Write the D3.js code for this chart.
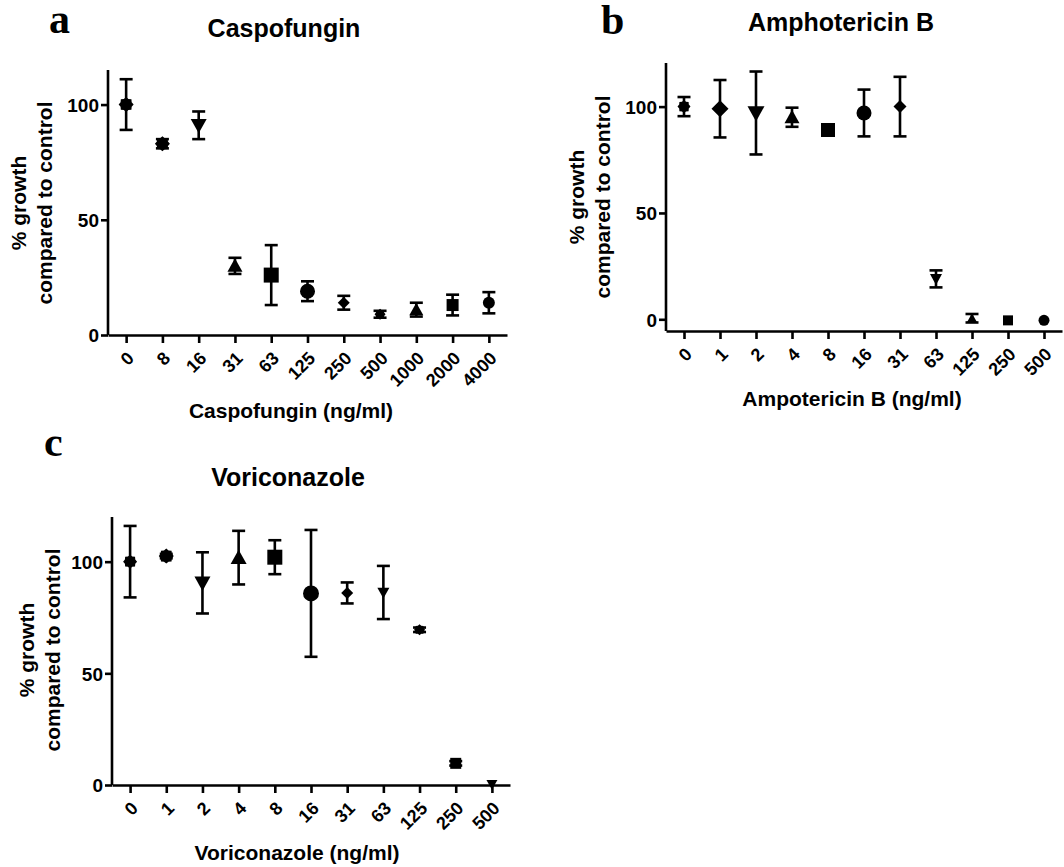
<!DOCTYPE html>
<html>
  <head>
    <meta charset="utf-8">
    <script src="https://cdn.jsdelivr.net/npm/d3@7"></script>
    <style>
      body { margin: 0; background: #fff; }
      text { font-family: "Liberation Sans", Arial, sans-serif; font-weight: bold; fill: #000; }
      .letter { font-family: "Liberation Serif", "Times New Roman", serif; font-size: 42px; }
    </style>
  </head>
  <body>
    <svg width="1064" height="867"></svg>
    <script>

      // Panel a - Caspofungin
      var caspoDoses = ["0", "8", "16", "31", "63", "125", "250", "500", "1000", "2000", "4000"];
      var caspoMean = [100, 83, 91, 30, 26, 19, 14, 9, 11, 13, 14];
      var caspoErr = [11, 2, 6, 3.5, 13, 4.3, 3, 1.5, 3, 4.5, 4.6];

      // Panel b - Amphotericin B
      var amphoDoses = ["0", "1", "2", "4", "8", "16", "31", "63", "125", "250", "500"];
      var amphoMean = [100, 99, 97, 95, 89, 97, 100, 19, 0.5, -0.5, -0.5];
      var amphoErr = [4.5, 13.5, 19.5, 4.5, 0, 11, 14, 4, 2, 0.5, 0];

      // Panel c - Voriconazole
      var voriDoses = ["0", "1", "2", "4", "8", "16", "31", "63", "125", "250", "500"];
      var voriMean = [100, 102.5, 90.5, 101.8, 102, 85.8, 86, 86.2, 69.5, 9.7, 0.3];
      var voriErr = [16, 1, 13.7, 12, 7.6, 28.4, 4.7, 11.9, 1, 1, 0.5];

      var yTicks = [0, 50, 100];

      // custom marker shapes, size = marker width in px
      var shapes = {
        star8: { draw: function(ctx, w) {
          var ro = w / 2, ri = ro * 0.8;
          for (var i = 0; i < 16; i++) {
            var r = i % 2 ? ri : ro, a = Math.PI * i / 8 - Math.PI / 2;
            if (i == 0) ctx.moveTo(r * Math.cos(a), r * Math.sin(a));
            else ctx.lineTo(r * Math.cos(a), r * Math.sin(a));
          }
          ctx.closePath();
        }},
        triDown: { draw: function(ctx, w) {
          ctx.moveTo(-w / 2, -w * 0.4); ctx.lineTo(w / 2, -w * 0.4); ctx.lineTo(0, w * 0.5); ctx.closePath();
        }},
        triUp: { draw: function(ctx, w) {
          ctx.moveTo(-w / 2, w * 0.4); ctx.lineTo(w / 2, w * 0.4); ctx.lineTo(0, -w * 0.5); ctx.closePath();
        }},
        square: { draw: function(ctx, w) {
          ctx.rect(-w / 2, -w / 2, w, w);
        }},
        circle: { draw: function(ctx, w) {
          ctx.moveTo(w / 2, 0); ctx.arc(0, 0, w / 2, 0, 2 * Math.PI);
        }},
        diamond: { draw: function(ctx, w) {
          ctx.moveTo(0, -w / 2); ctx.lineTo(w / 2, 0); ctx.lineTo(0, w / 2); ctx.lineTo(-w / 2, 0); ctx.closePath();
        }}
      };

      var svg = d3.select("svg");

      function drawPanel(p) {
        var g = svg.append("g");

        var x = d3.scalePoint().domain(p.doses).range(p.xRange).padding(0.5);
        var y = d3.scaleLinear().domain(p.yDomain).range(p.yRange);
        var axisY = p.yRange[0];

        // y axis
        g.append("g")
          .attr("transform", "translate(" + p.xRange[0] + ",0)")
          .call(d3.axisLeft(y).tickValues(yTicks).tickSize(7).tickPadding(2))
          .call(function(a) {
            a.select(".domain").attr("d", "M0," + p.yRange[0] + "V" + p.yRange[1]);
            a.selectAll("line, path").attr("stroke", "#000").attr("stroke-width", 2.6);
            a.selectAll("text").style("font-size", "19px").attr("dy", "0.36em");
          });

        // x axis
        g.append("g")
          .attr("transform", "translate(0," + axisY + ")")
          .call(d3.axisBottom(x).tickSize(8).tickSizeOuter(0))
          .call(function(a) {
            a.selectAll("line, path").attr("stroke", "#000").attr("stroke-width", 2.6);
            a.selectAll("text")
              .style("font-size", "18px")
              .attr("text-anchor", "end")
              .attr("y", 0).attr("dy", "0.35em")
              .attr("transform", "translate(4,20) rotate(-45)");
          });

        var pts = p.doses.map(function(d, i) {
          return { dose: d, mean: p.mean[i], err: p.err[i], shape: p.shapes[i], size: p.sizes[i] };
        });

        // error bars
        var eb = g.selectAll(".eb").data(pts.filter(function(d) { return d.err > 0.6; }))
          .enter().append("g").attr("class", "eb")
          .attr("stroke", "#000").attr("stroke-width", 2.6);
        eb.append("line")
          .attr("x1", function(d) { return x(d.dose); })
          .attr("x2", function(d) { return x(d.dose); })
          .attr("y1", function(d) { return y(d.mean - d.err); })
          .attr("y2", function(d) { return y(d.mean + d.err); });
        [-1, 1].forEach(function(s) {
          eb.append("line")
            .attr("x1", function(d) { return x(d.dose) - 6.5; })
            .attr("x2", function(d) { return x(d.dose) + 6.5; })
            .attr("y1", function(d) { return y(d.mean + s * d.err); })
            .attr("y2", function(d) { return y(d.mean + s * d.err); });
        });

        // markers
        g.selectAll(".mk").data(pts).enter().append("path")
          .attr("class", "mk")
          .attr("d", function(d) { return d3.symbol().type(shapes[d.shape]).size(d.size)(); })
          .attr("transform", function(d) { return "translate(" + x(d.dose) + "," + y(d.mean) + ")"; })
          .attr("fill", "#000");

        // titles
        g.append("text").attr("class", "letter").attr("x", p.letterPos[0]).attr("y", p.letterPos[1]).text(p.letter);
        g.append("text").attr("x", p.titlePos[0]).attr("y", p.titlePos[1])
          .attr("text-anchor", "middle").style("font-size", "25px").text(p.title);
        g.append("text").attr("x", p.xLabelPos[0]).attr("y", p.xLabelPos[1])
          .attr("text-anchor", "middle").style("font-size", "21px").text(p.xLabel);

        var yl = g.append("text")
          .attr("transform", "translate(" + p.yLabelPos[0] + "," + p.yLabelPos[1] + ") rotate(-90)")
          .attr("text-anchor", "middle").style("font-size", "21px");
        yl.append("tspan").attr("x", 0).attr("dy", "0.35em").text("% growth");
        yl.append("tspan").attr("x", 0).attr("dy", "1.2em").text("compared to control");
      }

      drawPanel({
        doses: caspoDoses, mean: caspoMean, err: caspoErr,
        shapes: ["star8", "star8", "triDown", "triUp", "square", "circle", "diamond", "star8", "triUp", "square", "circle"],
        sizes: [15, 15, 16, 15, 15, 15, 12, 11, 14, 12, 12],
        xRange: [108, 507], yDomain: [0, 115], yRange: [335, 70],
        letter: "a", letterPos: [49, 33],
        title: "Caspofungin", titlePos: [284, 37],
        xLabel: "Caspofungin (ng/ml)", xLabelPos: [291, 418],
        yLabelPos: [19, 203]
      });

      drawPanel({
        doses: amphoDoses, mean: amphoMean, err: amphoErr,
        shapes: ["star8", "diamond", "triDown", "triUp", "square", "circle", "diamond", "triDown", "triUp", "square", "circle"],
        sizes: [13, 17, 17, 15, 14, 15, 13, 12, 10, 10, 11],
        xRange: [666, 1062], yDomain: [-5.5, 120.5], yRange: [331, 63],
        letter: "b", letterPos: [601, 34],
        title: "Amphotericin B", titlePos: [841, 31],
        xLabel: "Ampotericin B (ng/ml)", xLabelPos: [852, 406],
        yLabelPos: [577, 197]
      });

      drawPanel({
        doses: voriDoses, mean: voriMean, err: voriErr,
        shapes: ["star8", "star8", "triDown", "triUp", "square", "circle", "diamond", "triDown", "star8", "square", "triDown"],
        sizes: [14, 15, 16, 16, 15, 16, 12, 12, 11, 11, 11],
        xRange: [112, 510], yDomain: [0, 120], yRange: [785, 517],
        letter: "c", letterPos: [44, 456],
        title: "Voriconazole", titlePos: [288, 486],
        xLabel: "Voriconazole (ng/ml)", xLabelPos: [297, 860],
        yLabelPos: [27, 650]
      });

    </script>
  </body>
</html>
